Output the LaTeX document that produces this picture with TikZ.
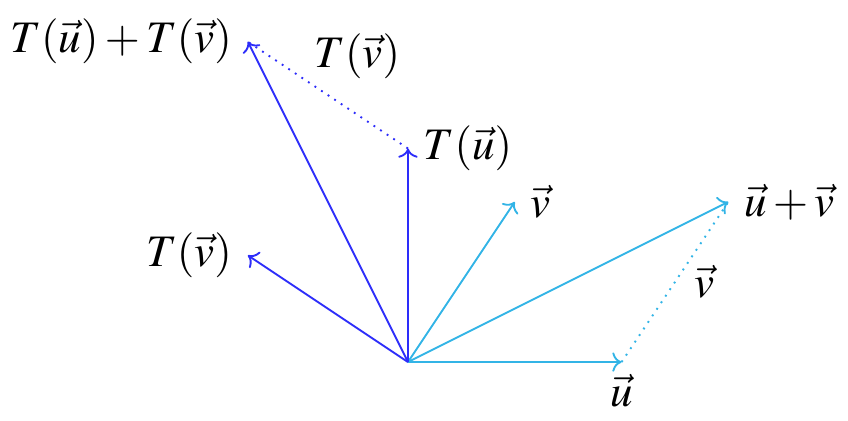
\documentclass[tikz,border=0pt]{standalone}
\usepackage{mathptmx}
\usetikzlibrary{arrows.meta}
\definecolor{lblue}{RGB}{50,180,230}
\definecolor{dblue}{RGB}{45,45,250}
\tikzset{
  vec/.style={line width=1pt,-{To[scale=1.3]}},
  dotv/.style={line width=1pt,dash pattern=on 1pt off 3.2pt},
  lab/.style={font=\fontsize{24}{29}\selectfont,inner sep=8pt,text=black},
}
\begin{document}
\begin{tikzpicture}
\useasboundingbox (-7.64,-1.10) rectangle (8.24,6.78);
\coordinate (O) at (0,0);
\coordinate (U) at (4,0);
\coordinate (V) at (2,3);
\coordinate (UV) at (6,3);
\coordinate (TU) at (0,4);
\coordinate (TV) at (-3,2);
\coordinate (TUV) at (-3,6);
% domain vectors
\draw[vec,lblue] (O) -- (U) node[lab,below,inner sep=6pt] (lu) {$\vec{u}$};
\draw[vec,lblue] (O) -- (V) node[lab,right] (lv) {$\vec{v}$};
\draw[vec,lblue] (O) -- (UV) node[lab,right] (luv) {$\vec{u}+\vec{v}$};
\draw[dotv,lblue] (U) -- node[lab,right,pos=0.5,xshift=2pt] (ldv) {$\vec{v}$} (UV);
% image vectors
\draw[vec,dblue] (O) -- (TU) node[lab,right] (ltu) {$T(\vec{u})$};
\draw[vec,dblue] (O) -- (TV) node[lab,left] (ltv) {$T(\vec{v})$};
\draw[vec,dblue] (O) -- (TUV) node[lab,left] (ltuv) {$T(\vec{u})+T(\vec{v})$};
\draw[dotv,dblue] (TU) -- node[lab,above,pos=0.5,xshift=0.55cm] (ldtv) {$T(\vec{v})$} (TUV);
\end{tikzpicture}
\end{document}
